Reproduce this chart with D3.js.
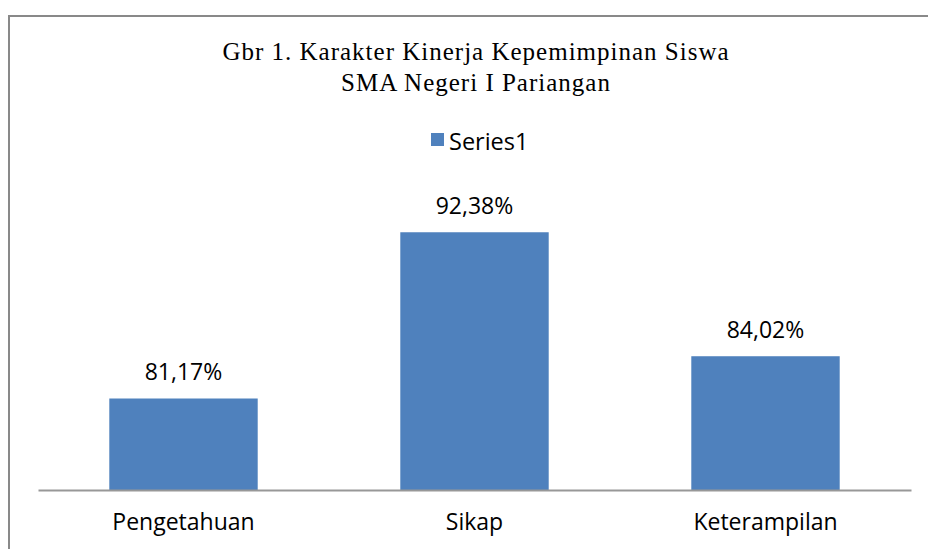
<!DOCTYPE html>
<html>
<head>
<meta charset="utf-8">
<script src="https://cdn.jsdelivr.net/npm/d3@7"></script>
<style>
  body { margin: 0; background: #fff; }
</style>
</head>
<body>
<div id="chart"></div>
<script>
const categories = ["Pengetahuan", "Sikap", "Keterampilan"];
const values = [81.17, 92.38, 84.02];
const valueLabels = ["81,17%", "92,38%", "84,02%"];
const titleLines = ["Gbr 1. Karakter  Kinerja Kepemimpinan Siswa", "SMA Negeri I Pariangan"];
const seriesName = "Series1";

const width = 928;
const height = 549;
const barColor = "#4F81BD";

const svg = d3.select("#chart")
    .append("svg")
    .attr("width", width)
    .attr("height", height);

// chart border (box runs past the right and bottom edges)
svg.append("rect")
    .attr("x", 9)
    .attr("y", 16)
    .attr("width", 940)
    .attr("height", 560)
    .attr("fill", "#fff")
    .attr("stroke", "#898989")
    .attr("stroke-width", 2);

// title
svg.append("g").selectAll("text")
    .data(titleLines)
    .enter().append("text")
    .attr("x", 476)
    .attr("y", (d, i) => 60 + i * 31)
    .attr("text-anchor", "middle")
    .style("font-family", "'Liberation Serif', serif")
    .style("font-size", "25px")
    .style("letter-spacing", "1px")
    .style("fill", "#000")
    .text(d => d);

// legend
const legend = svg.append("g");
legend.append("rect")
    .attr("x", 431)
    .attr("y", 133)
    .attr("width", 13)
    .attr("height", 13)
    .attr("fill", barColor);
legend.append("text")
    .attr("x", 449)
    .attr("y", 150)
    .style("font-family", "'Open Sans', sans-serif")
    .style("font-size", "23.5px")
    .style("fill", "#000")
    .text(seriesName);

// scales
const x = d3.scaleBand()
    .domain(categories)
    .range([38, 911])
    .paddingInner(0.49)
    .paddingOuter(0.245);

const y = d3.scaleLinear()
    .domain([75, 95])
    .range([490, 193.4]);

// bars
svg.append("g").selectAll("rect")
    .data(values)
    .enter().append("rect")
    .attr("x", (d, i) => x(categories[i]))
    .attr("y", d => y(d))
    .attr("width", x.bandwidth())
    .attr("height", d => y(75) - y(d))
    .attr("fill", barColor);

// value labels
svg.append("g").selectAll("text")
    .data(values)
    .enter().append("text")
    .attr("x", (d, i) => x(categories[i]) + x.bandwidth() / 2)
    .attr("y", d => y(d) - 18)
    .attr("text-anchor", "middle")
    .style("font-family", "'Open Sans', sans-serif")
    .style("font-size", "23px")
    .style("fill", "#000")
    .text((d, i) => valueLabels[i]);

// x axis
const xAxis = d3.axisBottom(x).tickSize(0).tickPadding(24);
const axisG = svg.append("g")
    .attr("transform", `translate(0,${y(75)})`)
    .call(xAxis);
axisG.select(".domain")
    .attr("stroke", "#989898")
    .attr("stroke-width", 2);
axisG.selectAll("text")
    .style("font-family", "'Open Sans', sans-serif")
    .style("font-size", "23px")
    .style("fill", "#000");
</script>
</body>
</html>
